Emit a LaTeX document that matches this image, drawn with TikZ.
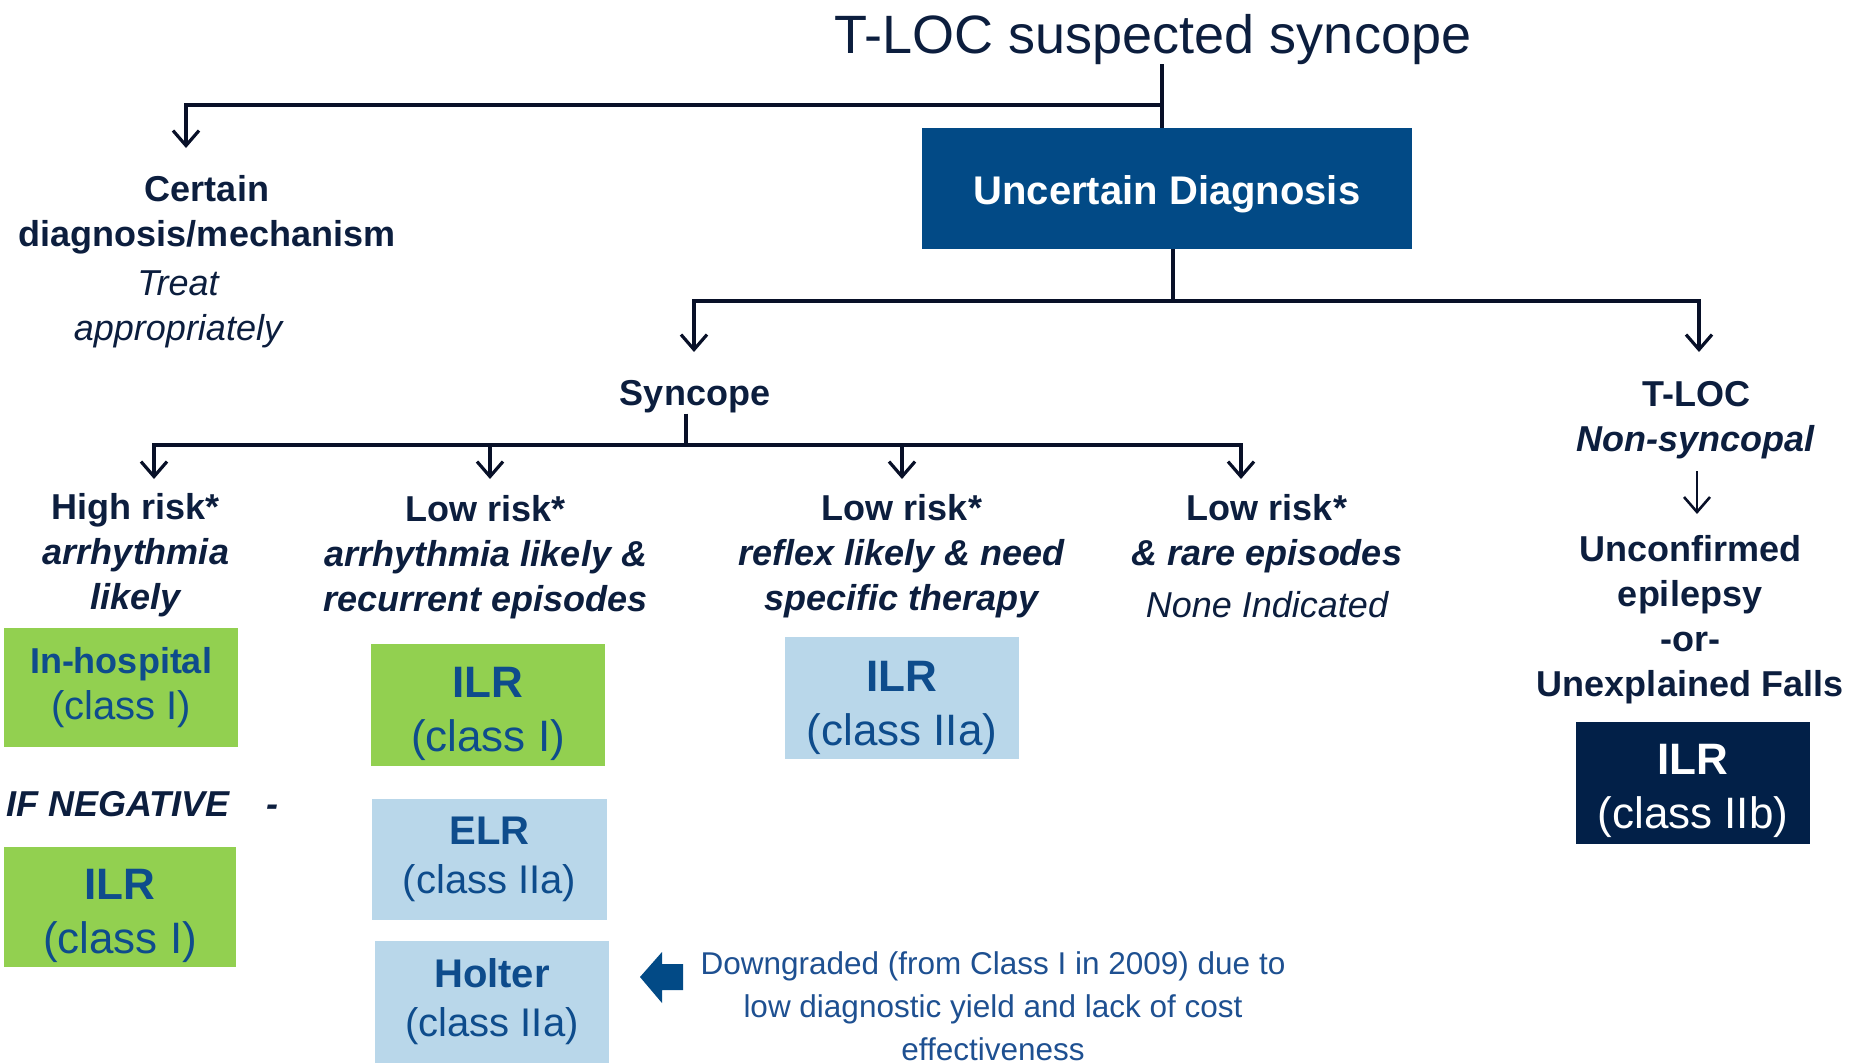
\documentclass[tikz,border=0pt]{standalone}
\usepackage{fontspec}
\setmainfont{Liberation Sans}
\usetikzlibrary{arrows.meta}

\definecolor{ink}{RGB}{12,30,62}
\definecolor{linec}{RGB}{8,16,40}
\definecolor{udblue}{RGB}{2,74,134}
\definecolor{navybox}{RGB}{2,32,72}
\definecolor{leaf}{RGB}{146,208,80}
\definecolor{sky}{RGB}{185,215,234}
\definecolor{boxink}{RGB}{14,76,140}
\definecolor{noteink}{RGB}{30,80,145}

\tikzset{
  txt/.style={inner sep=0pt, align=center, text=ink},
  bold36/.style={font=\fontsize{36}{45}\selectfont\bfseries},
  rec/.style={inner sep=0pt, align=center, minimum width=234pt, minimum height=122pt},
  big/.style={font=\fontsize{44}{54}\selectfont},
  mid/.style={font=\fontsize{40}{49}\selectfont},
  link/.style={draw=linec, line width=3.2pt},
  arr/.style={link, -{Straight Barb[length=15pt,width=26pt]}},
}

\begin{document}
\begin{tikzpicture}[x=1pt,y=-1pt]
\useasboundingbox (0,0) rectangle (1854,1063);

% ---- top level ----
\node[txt, font=\fontsize{54}{60}\selectfont, anchor=base] (title) at (1153,53) {T-LOC suspected syncope};
\node[rec, fill=udblue, minimum width=490pt, minimum height=121pt, text=white,
      font=\fontsize{40}{48}\selectfont\bfseries] (ud) at (1167,188.5) {\rule{0pt}{41pt}Uncertain Diagnosis};

\node[txt, bold36] (cert) at (207,215) {Certain\\diagnosis/mechanism};
\node[txt, font=\fontsize{36}{45}\selectfont\itshape] (treat) at (178,309) {Treat\\appropriately};

% ---- second level ----
\node[txt, bold36] (sync) at (695,397) {Syncope};
\node[txt, bold36] (tloc) at (1696,420) {T-LOC\\\textit{Non-syncopal}};
\node[txt, bold36] (unconf) at (1690,620) {Unconfirmed\\epilepsy\\-or-\\Unexplained Falls};
\node[rec, fill=navybox, text=white, big] (ilrb) at (1693,783) {\rule{0pt}{46pt}\textbf{ILR}\\(class IIb)};

% ---- syncope branches ----
\node[txt, bold36] (high) at (136,555) {High risk*\\\textit{arrhythmia}\\\textit{likely}};
\node[txt, bold36] (lowa) at (486,557) {Low risk*\\\textit{arrhythmia likely \&}\\\textit{recurrent episodes}};
\node[txt, bold36] (lowb) at (902,556.5) {Low risk*\\\textit{reflex likely \& need}\\\textit{specific therapy}};
\node[txt, bold36] (lowc) at (1267,556.5) {Low risk*\\\textit{\& rare episodes}\\[7pt]\mdseries\itshape None Indicated};

% ---- recommendation boxes ----
\node[rec, fill=leaf, text=boxink, font=\fontsize{40}{46}\selectfont, minimum width=234pt, minimum height=119pt]
  (inhosp) at (121,687.5) {\fontsize{36}{46}\selectfont\textbf{In-hospital}\\(class I)};
\node[txt, font=\fontsize{36}{45}\selectfont\bfseries\itshape, anchor=west] (ifneg) at (6,804) {IF NEGATIVE\hspace{37pt}-};
\node[rec, fill=leaf, text=boxink, big, minimum width=232pt, minimum height=120pt] (ilrl) at (120,907) {\rule{0pt}{48pt}\textbf{ILR}\\(class I)};

\node[rec, fill=leaf, text=boxink, big] (ilra) at (488,705) {\rule{0pt}{48pt}\textbf{ILR}\\(class I)};
\node[rec, fill=sky, text=boxink, mid, minimum width=235pt, minimum height=121pt] (elr) at (489.5,859.5) {\textbf{ELR}\\(class IIa)};
\node[rec, fill=sky, text=boxink, mid] (holter) at (492,1002) {\textbf{Holter}\\(class IIa)};
\node[rec, fill=sky, text=boxink, big] (ilrc) at (902,698) {\rule{0pt}{50pt}\textbf{ILR}\\(class IIa)};

% ---- note on the Holter downgrade ----
\fill[udblue] (640,977) -- (662,952) -- (662,964) -- (683,964) -- (683,990) -- (662,990) -- (662,1003) -- cycle;
\node[txt, text=noteink, font=\fontsize{31.5}{43}\selectfont] (note) at (993,1006)
  {Downgraded (from Class I in 2009) due to\\low diagnostic yield and lack of cost\\effectiveness};

% ---- connectors ----
\coordinate (j0) at (1162,105);
\coordinate (c1) at (186,148);
\draw[link] (title.south -| j0) -- (j0 |- ud.north);
\draw[arr] (j0) -| (c1);

\coordinate (j1) at (1173,301);
\coordinate (s1) at (694,352);
\coordinate (s2) at (1699,352);
\draw[link] (ud.south -| j1) -- (j1);
\draw[arr] (j1) -| (s1);
\draw[arr] (j1) -| (s2);

\coordinate (j2) at (686,445);
\coordinate (r1) at (154,479);
\coordinate (r2) at (490,479);
\coordinate (r3) at (902,479);
\coordinate (r4) at (1241,479);
\draw[link] (sync.south -| j2) -- (j2);
\draw[arr] (j2) -| (r1);
\draw[arr] (j2) -| (r2);
\draw[arr] (j2) -| (r3);
\draw[arr] (j2) -| (r4);

\coordinate (t1) at (1697,471);
\coordinate (t2) at (1697,514);
\draw[arr, line width=2.6pt] (t1) -- (t2);
\end{tikzpicture}
\end{document}
